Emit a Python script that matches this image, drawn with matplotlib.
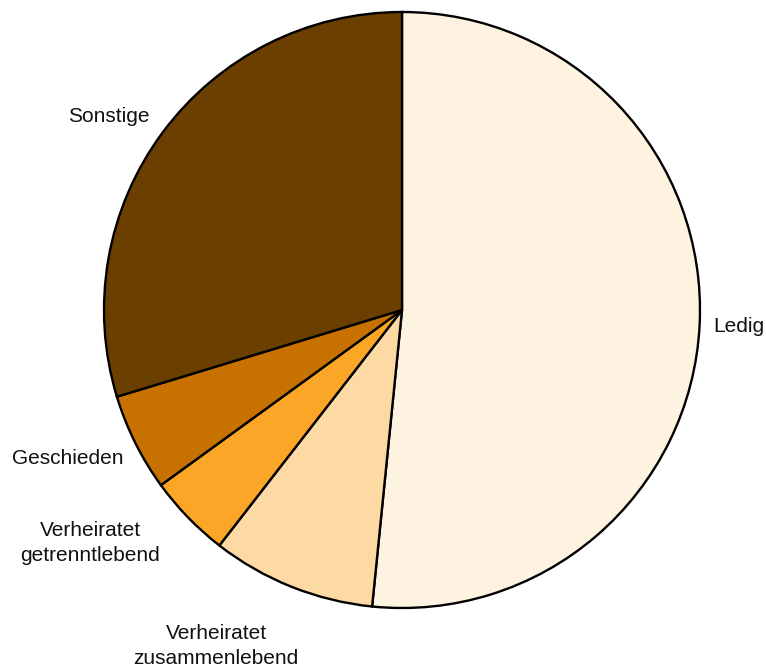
import matplotlib
matplotlib.use("Agg")
import matplotlib.pyplot as plt
import numpy as np

# ── Data ─────────────────────────────────────────────────────────────────────
labels = ["Ledig", "Verheiratet\nzusammenlebend", "Verheiratet\ngetrenntlebend",
          "Geschieden", "Sonstige"]
shares = [51.6, 8.9, 4.5, 5.3, 29.7]
colors = ["#FEF2E0", "#FDD9A3", "#FBA627", "#C77200", "#6B3F00"]

plt.rcParams["font.family"] = ["Liberation Sans", "DejaVu Sans"]

fig = plt.figure(figsize=(7.66, 6.66), dpi=100)
ax = fig.add_axes([0, 0, 1, 1])

# pie centre at (402, 310) px, radius 298 px
cx, cy, r = 402, 310, 298
ax.pie(shares, colors=colors, startangle=90, counterclock=False,
       wedgeprops=dict(edgecolor="black", linewidth=1.7))
ax.set_aspect("auto")
ax.set_xlim(-cx / r, (766 - cx) / r)
ax.set_ylim(-(666 - cy) / r, cy / r)
ax.axis("off")

# label anchor positions (pixels) and alignment
label_pos = [(713, 327, "left"), (216, 646, "center"), (90, 543, "center"),
             (68, 459, "center"), (109, 116, "center")]
for lab, (px, py, ha) in zip(labels, label_pos):
    ax.text((px - cx) / r, (cy - py) / r, lab, ha=ha, va="center",
            fontsize=15, linespacing=1.45, color="#111111")

plt.savefig("out.png", dpi=100)
plt.close()
